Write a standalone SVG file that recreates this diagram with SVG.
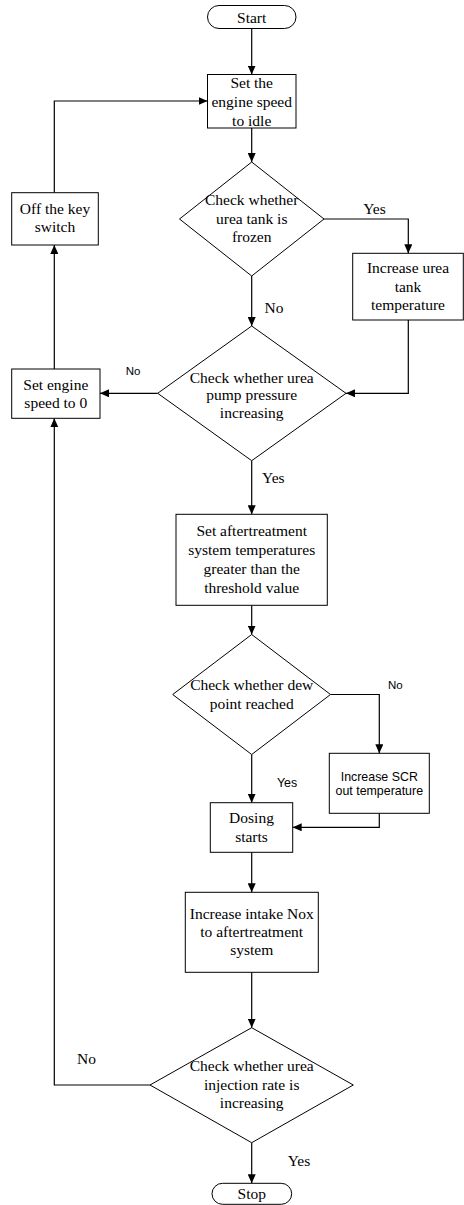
<svg xmlns="http://www.w3.org/2000/svg" width="464" height="1205" viewBox="0 0 464 1205">
  <style>
    .shape { fill: #ffffff; stroke: #000000; stroke-width: 1; }
    .edge { fill: none; stroke: #000000; stroke-width: 1.2; }
    .t { font-family: "Liberation Serif", "Times New Roman", serif; font-size: 15.5px; fill: #000000; text-anchor: middle; }
    .s { font-family: "Liberation Sans", Arial, sans-serif; font-size: 12.4px; fill: #000000; text-anchor: middle; }
    .lbl { font-family: "Liberation Sans", Arial, sans-serif; font-size: 11.5px; fill: #000000; text-anchor: middle; }
  </style>
  <defs>
    <marker id="arrow" markerUnits="userSpaceOnUse" markerWidth="9" markerHeight="8" refX="9" refY="4" orient="auto">
      <path d="M0,0 L9,4 L0,8 z" fill="#000000"/>
    </marker>
  </defs>
  <rect width="464" height="1205" fill="#ffffff"/>

  <!-- connectors -->
  <g id="connectors">
    <path class="edge" d="M251.7,28.5 V74.5" marker-end="url(#arrow)"/>
    <path class="edge" d="M251.7,128 V162" marker-end="url(#arrow)"/>
    <path class="edge" d="M324,219 H408.3 V253.3" marker-end="url(#arrow)"/>
    <path class="edge" d="M251.7,276 V326" marker-end="url(#arrow)"/>
    <path class="edge" d="M408.3,320 V393.3 H346" marker-end="url(#arrow)"/>
    <path class="edge" d="M157.7,393.3 H100" marker-end="url(#arrow)"/>
    <path class="edge" d="M54.3,369 V245" marker-end="url(#arrow)"/>
    <path class="edge" d="M54.3,192.7 V101 H207.5" marker-end="url(#arrow)"/>
    <path class="edge" d="M251.7,460.7 V514.3" marker-end="url(#arrow)"/>
    <path class="edge" d="M251.7,605.3 V634.5" marker-end="url(#arrow)"/>
    <path class="edge" d="M330.5,694.5 H379.3 V753.3" marker-end="url(#arrow)"/>
    <path class="edge" d="M251.7,754.5 V802.7" marker-end="url(#arrow)"/>
    <path class="edge" d="M379.3,813.3 V827.3 H292.7" marker-end="url(#arrow)"/>
    <path class="edge" d="M251.7,852.3 V892.3" marker-end="url(#arrow)"/>
    <path class="edge" d="M251.7,972.3 V1027.7" marker-end="url(#arrow)"/>
    <path class="edge" d="M150,1085 H54.3 V418.3" marker-end="url(#arrow)"/>
    <path class="edge" d="M251.7,1142.7 V1183.3" marker-end="url(#arrow)"/>

    <text class="t" x="374.5" y="214.3">Yes</text>
    <text class="t" x="274" y="312.6">No</text>
    <text class="lbl" x="133" y="374.6">No</text>
    <text class="t" x="273.3" y="482.6">Yes</text>
    <text class="lbl" x="395.3" y="689">No</text>
    <text class="s" x="287" y="787">Yes</text>
    <text class="t" x="86.5" y="1064.3">No</text>
    <text class="t" x="299" y="1166">Yes</text>
  </g>

  <g id="start">
    <rect class="shape" x="207.5" y="5.5" width="88.5" height="23" rx="11.5"/>
    <text class="t" x="251.7" y="22.5">Start</text>
  </g>

  <g id="idle">
    <rect class="shape" x="207.5" y="74.5" width="88.5" height="53.5"/>
    <text class="t" x="251.7" y="87.5">Set the<tspan x="251.7" dy="19">engine speed</tspan><tspan x="251.7" dy="19">to idle</tspan></text>
  </g>

  <g id="tank-frozen">
    <polygon class="shape" points="251.7,162 324,219 251.7,276 179.5,219"/>
    <text class="t" x="251.7" y="205">Check whether<tspan x="251.7" dy="18.7">urea tank is</tspan><tspan x="251.7" dy="18.7">frozen</tspan></text>
  </g>

  <g id="tank-heat">
    <rect class="shape" x="352.7" y="253.3" width="110.6" height="66.7"/>
    <text class="t" x="408" y="273">Increase urea<tspan x="408" dy="18.5">tank</tspan><tspan x="408" dy="18.5">temperature</tspan></text>
  </g>

  <g id="pump-pressure">
    <polygon class="shape" points="251.7,326 346,393.3 251.7,460.7 157.7,393.3"/>
    <text class="t" x="251.7" y="382.6">Check whether urea<tspan x="251.7" dy="17.5">pump pressure</tspan><tspan x="251.7" dy="17.5">increasing</tspan></text>
  </g>

  <g id="speed-zero">
    <rect class="shape" x="11.7" y="369" width="88.3" height="49.3"/>
    <text class="t" x="55.8" y="389.6">Set engine<tspan x="55.8" dy="18">speed to 0</tspan></text>
  </g>

  <g id="key-off">
    <rect class="shape" x="11.7" y="192.7" width="86.6" height="52.3"/>
    <text class="t" x="55" y="214.3">Off the key<tspan x="55" dy="18">switch</tspan></text>
  </g>

  <g id="aftertreatment-temp">
    <rect class="shape" x="176" y="514.3" width="151.3" height="91"/>
    <text class="t" x="251.7" y="536.3">Set aftertreatment<tspan x="251.7" dy="18.8">system temperatures</tspan><tspan x="251.7" dy="18.8">greater than the</tspan><tspan x="251.7" dy="18.8">threshold value</tspan></text>
  </g>

  <g id="dew-point">
    <polygon class="shape" points="251.7,634.5 330.5,694.5 251.7,754.5 172.7,694.5"/>
    <text class="t" x="251.7" y="689.6">Check whether dew<tspan x="251.7" dy="19">point reached</tspan></text>
  </g>

  <g id="scr-heat">
    <rect class="shape" x="329.3" y="753.3" width="100" height="60"/>
    <text class="s" x="379.3" y="780.6">Increase SCR<tspan x="379.3" dy="14.6">out temperature</tspan></text>
  </g>

  <g id="dosing">
    <rect class="shape" x="210.3" y="802.7" width="82.4" height="49.6"/>
    <text class="t" x="251.5" y="823">Dosing<tspan x="251.5" dy="19">starts</tspan></text>
  </g>

  <g id="intake-nox">
    <rect class="shape" x="185.3" y="892.3" width="133" height="80"/>
    <text class="t" x="251.7" y="919.3">Increase intake Nox<tspan x="251.7" dy="18">to aftertreatment</tspan><tspan x="251.7" dy="18">system</tspan></text>
  </g>

  <g id="injection-rate">
    <polygon class="shape" points="251.7,1027.7 353.3,1085 251.7,1142.7 150,1085"/>
    <text class="t" x="251.7" y="1071">Check whether urea<tspan x="251.7" dy="18.5">injection rate is</tspan><tspan x="251.7" dy="18.5">increasing</tspan></text>
  </g>

  <g id="stop">
    <rect class="shape" x="212" y="1183.3" width="79.7" height="21" rx="10.5"/>
    <text class="t" x="251.8" y="1199">Stop</text>
  </g>
</svg>
